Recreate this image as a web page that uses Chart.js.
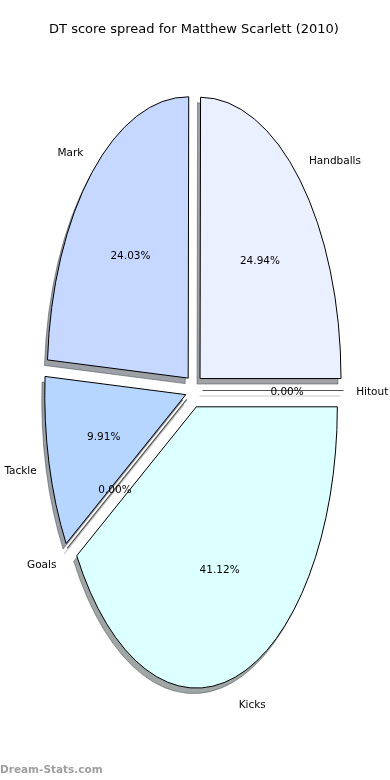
<!DOCTYPE html>
<html>
<head>
<meta charset="utf-8">
<script src="https://cdn.jsdelivr.net/npm/chart.js@4.4.1/dist/chart.umd.min.js"></script>
<style>
  html, body { margin: 0; padding: 0; background: #fff; }
  #wrap { width: 390px; height: 780px; }
</style>
</head>
<body>
<div id="wrap"><canvas id="pie" width="390" height="780"></canvas></div>
<script>
const labels = ['Handballs', 'Hitout', 'Kicks', 'Goals', 'Tackle', 'Mark'];
const values = [24.94, 0, 41.12, 0, 9.91, 24.03];
const colors = ['#eaf0ff', '#d6e4ff', '#dcffff', '#cddcff', '#b6d5ff', '#c6d8ff'];

const STRETCH = 1.995;   // the original pie is drawn as a tall ellipse
const EXPLODE = 8.5;
const SHADOW = [-3, 5.5];

function shadowOf(hex) {
    let n = parseInt(hex.slice(1), 16);
    let r = (n >> 16) & 255, g = (n >> 8) & 255, b = n & 255;
    return `rgba(${Math.round(r * 0.3)}, ${Math.round(g * 0.3)}, ${Math.round(b * 0.3)}, 0.5)`;
}

function place(ctx, el) {
    let mid = (el.startAngle + el.endAngle) / 2;
    ctx.translate(el.x, el.y);
    ctx.scale(1, STRETCH);
    ctx.translate(-el.x, -el.y);
    ctx.translate(Math.cos(mid) * EXPLODE, Math.sin(mid) * EXPLODE);
}

// empty wedges still get their edge drawn
function zeroLine(ctx, el) {
    let a = el.startAngle;
    ctx.beginPath();
    ctx.moveTo(el.x, el.y);
    ctx.lineTo(el.x + Math.cos(a) * el.outerRadius, el.y + Math.sin(a) * el.outerRadius);
    ctx.stroke();
}

// keep borders 1px even though the context is stretched
function thinStroke(ctx, dpr) {
    let orig = CanvasRenderingContext2D.prototype.stroke;
    ctx.stroke = function () {
        this.save();
        this.setTransform(dpr, 0, 0, dpr, 0, 0);
        orig.call(this);
        this.restore();
    };
}

const squash = {
    id: 'squash',
    beforeDatasetsDraw(chart) {
        let ctx = chart.ctx;
        let arcs = chart.getDatasetMeta(0).data;
        thinStroke(ctx, chart.currentDevicePixelRatio);

        arcs.forEach((el, i) => {
            let sc = shadowOf(colors[i]);
            ctx.save();
            ctx.translate(SHADOW[0], SHADOW[1]);
            place(ctx, el);
            if (el.circumference > 0) {
                let o = el.options;
                el.options = Object.assign({}, o, { backgroundColor: sc, borderColor: sc });
                el.draw(ctx);
                el.options = o;
            } else {
                ctx.strokeStyle = 'rgba(0,0,0,0.22)';
                ctx.lineWidth = 1.2;
                zeroLine(ctx, el);
            }
            ctx.restore();
        });

        arcs.forEach((el) => {
            ctx.save();
            place(ctx, el);
            if (el.circumference > 0) {
                el.draw(ctx);
            } else {
                ctx.strokeStyle = '#555';
                ctx.lineWidth = 1.2;
                zeroLine(ctx, el);
            }
            ctx.restore();
        });

        delete ctx.stroke;
        return false;
    },
    afterDraw(chart) {
        let ctx = chart.ctx;
        let arcs = chart.getDatasetMeta(0).data;
        let total = values.reduce((a, b) => a + b, 0);
        ctx.save();
        ctx.fillStyle = '#000';
        ctx.font = '10.5px "DejaVu Sans"';
        ctx.textBaseline = 'middle';
        arcs.forEach((el, i) => {
            let mid = (el.startAngle + el.endAngle) / 2;
            let r = el.outerRadius;
            let c = Math.cos(mid), s = Math.sin(mid);
            let ox = el.x + c * EXPLODE, oy = el.y + s * EXPLODE * STRETCH + 1.5;
            ctx.textAlign = c > 0 ? 'left' : 'right';
            ctx.fillText(labels[i], ox + c * r * 1.09, oy + s * r * 1.1 * STRETCH);
            ctx.textAlign = 'center';
            ctx.fillText((values[i] / total * 100).toFixed(2) + '%', ox + c * r * 0.6, oy + s * r * 0.6 * STRETCH);
        });
        ctx.font = 'bold 10.5px "DejaVu Sans"';
        ctx.fillStyle = '#9e9e9e';
        ctx.textAlign = 'left';
        ctx.fillText('Dream-Stats.com', 0, 770);
        ctx.restore();
    }
};

// start the first wedge so that it ends at 3 o'clock, as in the original
let total0 = values.reduce((a, b) => a + b, 0);

new Chart(document.getElementById('pie'), {
    type: 'pie',
    data: {
        labels: labels,
        datasets: [{
            data: values,
            backgroundColor: colors,
            borderColor: '#000',
            borderWidth: 1,
            borderJoinStyle: 'miter'
        }]
    },
    options: {
        responsive: false,
        animation: false,
        events: [],
        radius: 141,
        rotation: 90 - values[0] / total0 * 360,
        layout: { padding: { left: 0, right: 2, top: 0, bottom: 46.6 } },
        plugins: {
            legend: { display: false },
            tooltip: { enabled: false },
            title: {
                display: true,
                text: 'DT score spread for Matthew Scarlett (2010)',
                color: '#000',
                font: { family: 'DejaVu Sans', size: 13, weight: 'normal' },
                padding: { top: 22, bottom: 10 }
            }
        }
    },
    plugins: [squash]
});
</script>
</body>
</html>
